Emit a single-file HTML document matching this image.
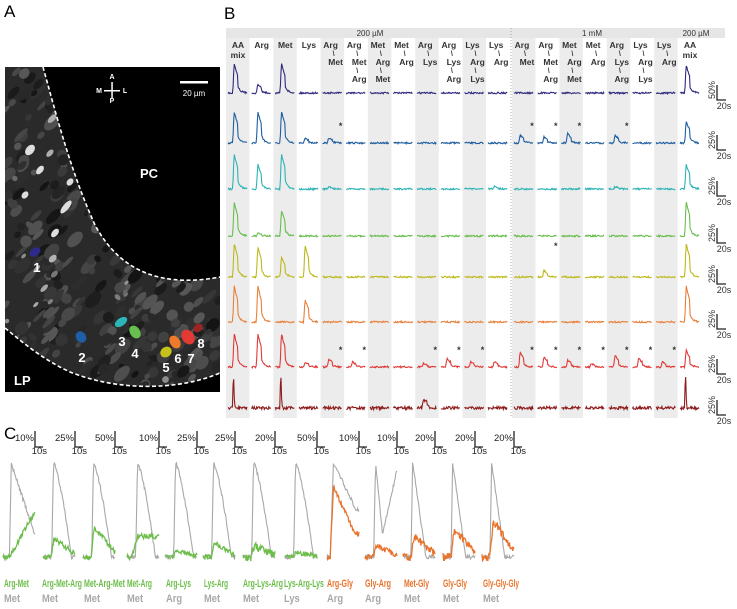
<!DOCTYPE html>
<html><head><meta charset="utf-8"><style>
html,body{margin:0;padding:0;background:#fff;width:737px;height:609px;overflow:hidden}
svg{display:block;font-family:"Liberation Sans",Arial,sans-serif}
</style></head><body>
<svg id="s" width="737" height="609" viewBox="0 0 737 609" xmlns="http://www.w3.org/2000/svg">
<defs>
<clipPath id="imgc"><rect x="5" y="67" width="215" height="325"/></clipPath>
<clipPath id="tis"><path d="M5,67 L43,67 C55,110 70,170 95,225 C115,262 150,290 220,277 L220,373 C180,390 120,392 70,372 C40,358 20,340 5,328 Z"/></clipPath>
</defs>
<text x="4" y="17" font-size="17">A</text>
<text x="224" y="19" font-size="17">B</text>
<text x="4" y="439" font-size="17">C</text>
<rect x="5" y="67" width="215" height="325" fill="#000"/>
<g id="tissue" clip-path="url(#tis)"><rect x="0" y="60" width="230" height="340" fill="#2a2a2a"/></g>
<g clip-path="url(#imgc)" fill="none" stroke="#fff" stroke-width="1.6" stroke-dasharray="4,2.5">
<path d="M43,67 C55,110 70,170 95,225 C115,262 150,290 220,277"/>
<path d="M5,328 C20,340 40,358 70,372 C120,392 180,390 220,373"/>
</g>
<g fill="#fff" font-weight="bold">
<text x="140" y="178" font-size="13">PC</text>
<text x="14" y="385" font-size="13">LP</text>
<text x="112" y="79" font-size="7" text-anchor="middle">A</text>
<text x="112" y="103" font-size="7" text-anchor="middle">P</text>
<text x="99" y="93" font-size="7" text-anchor="middle">M</text>
<text x="125" y="93" font-size="7" text-anchor="middle">L</text>
<rect x="104" y="90" width="16" height="1.5"/><rect x="111.3" y="82" width="1.5" height="16"/>
<rect x="180" y="81" width="28" height="2.5"/>
<text x="194" y="96" font-size="8" text-anchor="middle" font-weight="normal">20 µm</text>
</g>
<g id="cells"></g>
<g id="B"></g>
<g id="C"></g>
</svg>
<script>
var seed=7;function R(){seed=(seed*16807)%2147483647;return seed/2147483647;}
var NS="http://www.w3.org/2000/svg";
function el(p,t,a,txt){var e=document.createElementNS(NS,t);for(var k in a)e.setAttribute(k,a[k]);if(txt!=null)e.textContent=txt;p.appendChild(e);return e;}
var T=document.getElementById("tissue");
for(var i=0;i<420;i++){var g=Math.floor(20+R()*70);var cx=5+R()*215,cy=67+R()*325;el(T,"ellipse",{cx:cx,cy:cy,rx:3+R()*7,ry:2+R()*4,fill:"rgb("+g+","+g+","+g+")",transform:"rotate(-45 "+cx+" "+cy+")"});}
for(var i=0;i<40;i++){var g=Math.floor(100+R()*80);var cx=5+R()*215,cy=67+R()*325;el(T,"ellipse",{cx:cx,cy:cy,rx:2+R()*4,ry:1.5+R()*2,fill:"rgb("+g+","+g+","+g+")",transform:"rotate(-45 "+cx+" "+cy+")"});}
var bright=[[30,150,6,4],[66,207,8,3],[55,233,5,3],[25,195,4,3],[40,170,5,3],[70,182,4,3]];
bright.forEach(function(b){el(T,"ellipse",{cx:b[0],cy:b[1],rx:b[2],ry:b[3],fill:"#ddd",transform:"rotate(-50 "+b[0]+" "+b[1]+")"});});
var C=document.getElementById("cells");
var cells=[[35,252,6,4,"#2e2a8c","1",37,272],[81,337,5,6,"#1f5fa8","2",82,362],[121,322,7,4,"#2bb5b8","3",122,346],[135,332,5,7,"#67bf4e","4",135,358],[166,352,6,5,"#c6c21c","5",166,372],[175,342,5,7,"#ee7a2a","6",178,363],[188,337,6,8,"#e33a34","7",191,363],[198,328,5,4,"#9b2424","8",201,348]];
cells.forEach(function(c){el(C,"ellipse",{cx:c[0],cy:c[1],rx:c[2],ry:c[3],fill:c[4],transform:"rotate(-35 "+c[0]+" "+c[1]+")"});el(C,"text",{x:c[6],y:c[7],"font-size":13,"font-weight":"bold",fill:"#fff","text-anchor":"middle"},c[5]);});

var B=document.getElementById("B");
el(B,"rect",{x:226,y:28,width:499,height:10,fill:"#e6e6e6"});
el(B,"text",{x:370,y:36,"font-size":8,"text-anchor":"middle",fill:"#333"},"200 µM");
el(B,"text",{x:592,y:36,"font-size":8,"text-anchor":"middle",fill:"#333"},"1 mM");
el(B,"text",{x:696,y:36,"font-size":8,"text-anchor":"middle",fill:"#333"},"200 µM");
var cols=[];for(var i=0;i<12;i++)cols.push(226+i*23.65);for(var i=0;i<7;i++)cols.push(512+i*23.7);cols.push(678);
[0,2,4,6,8,10,12,14,16,18].forEach(function(i){el(B,"rect",{x:cols[i],y:38,width:23.5,height:380,fill:"#ececec"});});
el(B,"line",{x1:511,y1:28,x2:511,y2:418,stroke:"#aaa","stroke-width":1,"stroke-dasharray":"1,2"});
var heads=[["AA","mix"],["Arg"],["Met"],["Lys"],["Arg","Met"],["Arg","Met","Arg"],["Met","Arg","Met"],["Met","Arg"],["Arg","Lys"],["Arg","Lys","Arg"],["Lys","Arg","Lys"],["Lys","Arg"],
["Arg","Met"],["Arg","Met","Arg"],["Met","Arg","Met"],["Met","Arg"],["Arg","Lys","Arg"],["Lys","Arg","Lys"],["Lys","Arg"],["AA","mix"]];
heads.forEach(function(h,i){var cx=cols[i]+12;
 if(h[0]=="AA"){el(B,"text",{x:cx,y:48,"font-size":8.5,"font-weight":"bold","text-anchor":"middle",fill:"#333"},"AA");el(B,"text",{x:cx,y:58,"font-size":8.5,"font-weight":"bold","text-anchor":"middle",fill:"#333"},"mix");return;}
 h.forEach(function(w,j){var x=cx+(j>0?3:0)-(h.length>1&&j==0?2:0);el(B,"text",{x:x,y:48+j*17,"font-size":8.5,"font-weight":"bold","text-anchor":"middle",fill:"#333"},w);
 if(j<h.length-1)el(B,"text",{x:cx+1,y:56+j*17,"font-size":7,"font-weight":"bold","text-anchor":"middle",fill:"#333"},"\\");});});
var colors=["#2e2a7e","#1f5ea0","#2db3b6","#6abd4c","#bdb91c","#e8803a","#df3b36","#8e1c1c"];
var bases=[93,143,189,236,277,322,367,408];
var amps=[30,32,36,35,34,37,34,32];
var peaks=[
 {0:1,1:.3,2:1,19:.95},
 {0:1,1:1,2:1,3:.15,4:.15,12:.25,13:.2,14:.3,16:.25,19:.7},
 {0:1,1:.7,2:1,4:.06,11:.08,16:.06,19:.7},
 {0:1,1:.1,2:.75,19:1},
 {0:1,1:.9,2:.6,3:.95,13:.2,19:1},
 {0:1,1:1,3:.6,19:1},
 {0:1,1:1,2:1,3:.15,4:.25,5:.15,8:.12,9:.25,10:.15,11:.15,12:.45,13:.3,14:.2,15:.1,16:.35,17:.25,18:.15,19:.5},
 {0:1,2:1,8:.3,19:1}];
var stars=[[1,4],[1,12],[1,13],[1,14],[1,16],[4,13],[6,4],[6,5],[6,8],[6,9],[6,10],[6,12],[6,13],[6,14],[6,15],[6,16],[6,17],[6,18]];
function shape(t,a,sharp){var s=0.25;if(t<s)return 0;var u=t-s;
 if(sharp)return a*Math.exp(-Math.pow((u-0.04)/0.04,2));
 if(u<0.07)return a*u/0.07;return a*Math.exp(-(u-0.07)/0.22*(u>0.25?1.6:0.6));}
function trace(g,x0,w,base,amp,a,col,noise,sharp){var d="";var n=Math.round(w*1.6);
 for(var k=0;k<=n;k++){var t=k/n;var y=base-shape(t,a,sharp)*amp+(R()-.5)*noise;d+=(k?"L":"M")+(x0+t*w).toFixed(1)+","+y.toFixed(1);}
 el(g,"path",{d:d,fill:"none",stroke:col,"stroke-width":1.1});}
for(var r=0;r<8;r++){for(var i=0;i<20;i++){var a=peaks[r][i]||0;trace(B,cols[i]+2,19,bases[r],amps[r],a,colors[r],r==7?3:1.6,r==7&&a>0.5);}
 var sx=717,sb=bases[r]+7;
 el(B,"path",{d:"M"+sx+","+(sb-15)+"V"+sb+"h9",fill:"none",stroke:"#222","stroke-width":1.3});
 el(B,"text",{x:0,y:0,"font-size":9,fill:"#333",transform:"translate("+(sx-2)+","+(sb-1)+") rotate(-90)"},r==0?"50%":"25%");
 el(B,"text",{x:sx+7,y:sb+9,"font-size":9,fill:"#333","text-anchor":"middle"},"20s");}
stars.forEach(function(s){el(B,"text",{x:cols[s[1]]+20,y:bases[s[0]]-(s[0]==4?28:14),"font-size":9,"font-weight":"bold","text-anchor":"middle",fill:"#333"},"*");});

var G=document.getElementById("C");
var xs=[3,43,83,127,165,203,243,285,327,365,403,443,482];
var pct=["10%","25%","50%","10%","25%","25%","20%","50%","10%","10%","20%","20%","20%"];
var n1=["Arg-Met","Arg-Met-Arg","Met-Arg-Met","Met-Arg","Arg-Lys","Lys-Arg","Arg-Lys-Arg","Lys-Arg-Lys","Arg-Gly","Gly-Arg","Met-Gly","Gly-Gly","Gly-Gly-Gly"];
var n2=["Met","Met","Met","Met","Arg","Met","Met","Lys","Arg","Arg","Met","Met","Met"];
var lx=[4,42,84,127,166,204,243,284,327,365,404,443,483];
var lw=[25,40,41,25,25,24,40,40,26,26,25,24,36];
var camp=[.45,.2,.32,.22,.07,.15,.12,.05,.75,.12,.22,.3,.38];
var GR="#a8a8a8",GN="#6cbd4a",OR="#e8732c";
for(var p=0;p<13;p++){var x0=xs[p],base=557,H=94,W=32;var col=p<8?GN:OR;
 var d="";for(var k=0;k<=50;k++){var t=k/50,v;
  if(t<0.27)v=0;else if(t<0.33)v=(t-0.27)/0.06;else v=Math.max(0,1-Math.pow((t-0.33)/0.6,1.4)*1.1);
  if(p==0)v=t<0.2?0:(t<0.26?(t-0.2)/0.06:Math.max(0.25,1-(t-0.26)*1.05));
  if(p==8)v=t<0.1?0:(t<0.2?(t-0.1)/0.1:Math.max(0.5,1-(t-0.2)*0.7));
  if(p==9){v=t<0.27?0:(t<0.33?(t-0.27)/0.06:(t<0.55?Math.max(0.25,1-(t-0.33)*3.5):0.25+(t-0.55)*1.5));if(v>0.9&&t>0.6)v=0.9;}
  if(p>=10){v=t<0.25?0:(t<0.3?(t-0.25)/0.05:Math.max(0,1-(t-0.3)*2.4));}
  var y=base-v*H+(R()-.5)*4;d+=(k?"L":"M")+(x0+t*W).toFixed(1)+","+y.toFixed(1);}
 el(G,"path",{d:d,fill:"none",stroke:GR,"stroke-width":1.1});
 d="";for(var k=0;k<=50;k++){var t=k/50,a=camp[p],v;
  if(p==0)v=t<0.2?0:Math.min(a,(t-0.2)*0.6);
  else if(p==8)v=t<0.1?0:(t<0.2?a*(t-0.1)/0.1:Math.max(0.25,a-(t-0.2)*0.75));
  else if(p==3)v=t<0.15?0:Math.min(a,(t-0.15)*1.2);
  else v=t<0.25?0:(t<0.35?a*(t-0.25)/0.1:Math.max(0,a*(1-(t-0.35)*1.3)));
  var y=base-v*H+(R()-.5)*(p==6||p>=10?8:5);d+=(k?"L":"M")+(x0+t*W).toFixed(1)+","+y.toFixed(1);}
 el(G,"path",{d:d,fill:"none",stroke:col,"stroke-width":1.3});
 var sx=x0+32;el(G,"path",{d:"M"+sx+",431V447h8",fill:"none",stroke:"#222","stroke-width":1.3});
 el(G,"text",{x:sx-1,y:441,"font-size":9.5,"text-anchor":"end",fill:"#222"},pct[p]);
 el(G,"text",{x:sx+12,y:454,"font-size":9.5,"text-anchor":"end",fill:"#222"},"10s");
 var t1=el(G,"text",{x:0,y:0,"font-size":11,"font-weight":"bold",fill:col},n1[p]);
 var L=t1.getComputedTextLength()||lw[p];var sc=Math.min(1,lw[p]/L);
 t1.setAttribute("transform","translate("+lx[p]+",587) scale("+sc.toFixed(3)+",1)");
 var t2=el(G,"text",{x:0,y:0,"font-size":11,"font-weight":"bold",fill:GR},n2[p]);
 t2.setAttribute("transform","translate("+lx[p]+",602) scale(0.85,1)");}
</script>
</body></html>
